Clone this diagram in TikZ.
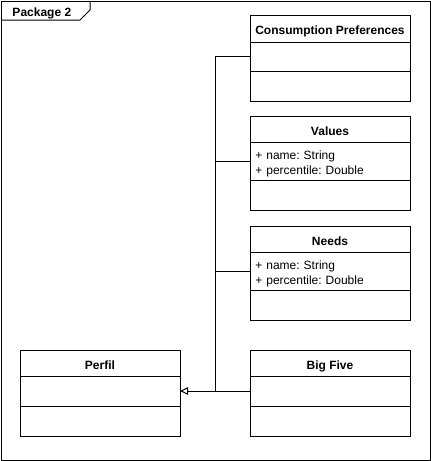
\documentclass[tikz,border=0pt]{standalone}
\usepackage{fontspec}
\setmainfont{Liberation Sans}
\frenchspacing
\usetikzlibrary{positioning,arrows.meta}

\tikzset{every picture/.style={line width=0.75pt}}
\tikzset{
  classhead/.style={draw, rectangle, outer sep=0pt, minimum width=120pt, minimum height=19.5pt, font=\bfseries\fontsize{9}{11}\selectfont, text height=9.5pt, text depth=0pt},
  classpart/.style={draw, rectangle, outer sep=0pt, minimum width=120pt, minimum height=22.5pt, inner xsep=4pt, text width=112pt, align=left, font=\fontsize{9}{11.25}\selectfont},
  attrpart/.style={classpart, minimum height=28.5pt, inner ysep=1pt, execute at begin node={\rule{0pt}{11pt}}},
  generalization/.style={-{Triangle[open,length=6pt,width=5.6pt]}}
}

\begin{document}
\begin{tikzpicture}[x=0.75pt,y=0.75pt,yscale=-1,xscale=1]
\useasboundingbox (0,0) rectangle (431,461);

%Package frame
\draw    (1,1) rectangle (430,460) ;
\draw    (1,20) -- (80,20) -- (90,10) -- (90,1) ;
\node [anchor=west, inner sep=0pt, font=\bfseries\fontsize{9}{11}\selectfont, text height=6.5pt, text depth=0pt] (pkg) at (12,11.7) {Package 2};

%Class: Consumption Preferences
\node [classhead, anchor=north, minimum height=20.25pt] (cp) at (330,15) {Consumption Preferences};
\node [classpart, below=0pt of cp, minimum height=21.75pt] (cpa) {};
\node [classpart, below=0pt of cpa] (cpm) {};

%Class: Values
\node [classhead, anchor=north] (v) at (330,116) {Values};
\node [attrpart, below=0pt of v] (va) {+ name: String\\+ percentile: Double};
\node [classpart, below=0pt of va] (vm) {};

%Class: Needs
\node [classhead, anchor=north] (n) at (330,226) {Needs};
\node [attrpart, below=0pt of n] (na) {+ name: String\\+ percentile: Double};
\node [classpart, below=0pt of na] (nm) {};

%Class: Big Five
\node [classhead, anchor=north] (bf) at (330,350) {Big Five};
\node [classpart, below=0pt of bf] (bfa) {};
\node [classpart, below=0pt of bfa] (bfm) {};

%Class: Perfil
\node [classhead, anchor=north] (pf) at (100,350) {Perfil};
\node [classpart, below=0pt of pf] (pfa) {};
\node [classpart, below=0pt of pfa] (pfm) {};

%Generalization lines
\path (bfa.west) -- (pfa.east) coordinate [pos=0.49] (jn) ;
\draw [generalization]   (bfa.west) -- (pfa.east) ;
\draw    (cpa.west) -| (jn) ;
\draw    (va.west) -- (va.west -| jn) ;
\draw    (na.west) -- (na.west -| jn) ;

\end{tikzpicture}
\end{document}
